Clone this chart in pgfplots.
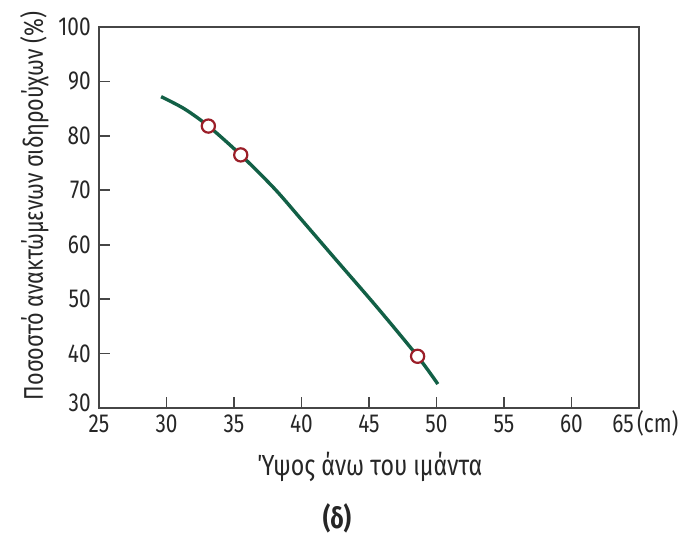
\documentclass[border=0pt]{standalone}
\usepackage{fontspec}
\setmainfont{Fira Sans}
\usepackage{pgfplots}
\pgfplotsset{compat=1.18}
\definecolor{curvegreen}{RGB}{18,96,70}
\definecolor{markred}{RGB}{155,30,40}
\definecolor{axgray}{RGB}{70,70,70}
\definecolor{txt}{RGB}{38,38,38}
\begin{document}
\begin{tikzpicture}
\useasboundingbox (-49.5pt,-64pt) rectangle (290.5pt,204pt);
\begin{axis}[
    anchor=south west, at={(0pt,0pt)},
    scale only axis, width=270pt, height=190.5pt,
    xmin=25, xmax=65, ymin=30, ymax=100,
    xtick={25,30,35,40,45,50,55,60},
    xticklabels={25,30,35,40,45,50,55,60},
    ytick={40,50,60,70,80,90,100},
    yticklabels={40,50,60,70,80,90,100},
    extra x ticks={65}, extra x tick labels={65\,\smash{(cm)}},
    extra x tick style={xticklabel style={xshift=4pt}},
    extra y ticks={30}, extra y tick labels={30},
    extra y tick style={yticklabel style={yshift=2.5pt}},
    axis line style={axgray, line width=0.9pt},
    major tick style={draw=axgray, line width=0.9pt},
    major tick length=5.5pt, tick align=inside,
    xtick pos=left, ytick pos=left,
    tick label style={font=\fontsize{13}{14}\selectfont, xscale=0.8, text=txt},
    yticklabel style={xshift=-1.7pt},
    clip=false,
]
\addplot[curvegreen, line width=1.7pt, smooth, tension=0.5] coordinates {
    (29.6,87.2) (31.3,85.0) (33.1,81.8) (35.5,76.5) (38,70.3) (40,64.6)
    (42.5,57.4) (45.6,48.5) (48.6,39.5) (50.1,34.4)
};
\addplot[only marks, mark=*, mark size=3.3pt,
    mark options={draw=markred, fill=white, line width=1.1pt}] coordinates {
    (33.1,81.8) (35.5,76.5) (48.6,39.5)
};
\end{axis}
\node[anchor=base, rotate=90, xscale=0.8, font=\fontsize{13.5}{15}\selectfont, text=txt]
    at (-28pt,101pt) {Ποσοστό ανακτώμενων σιδηρούχων (\%)};
\node[anchor=base, xscale=0.8, font=\fontsize{14.5}{16}\selectfont, text=txt]
    at (135.5pt,-33.5pt) {Ύψος άνω του ιμάντα};
\node[anchor=base, xscale=0.8, font=\bfseries\fontsize{14.5}{16}\selectfont, text=txt]
    at (119pt,-60pt) {(δ)};
\end{tikzpicture}
\end{document}
